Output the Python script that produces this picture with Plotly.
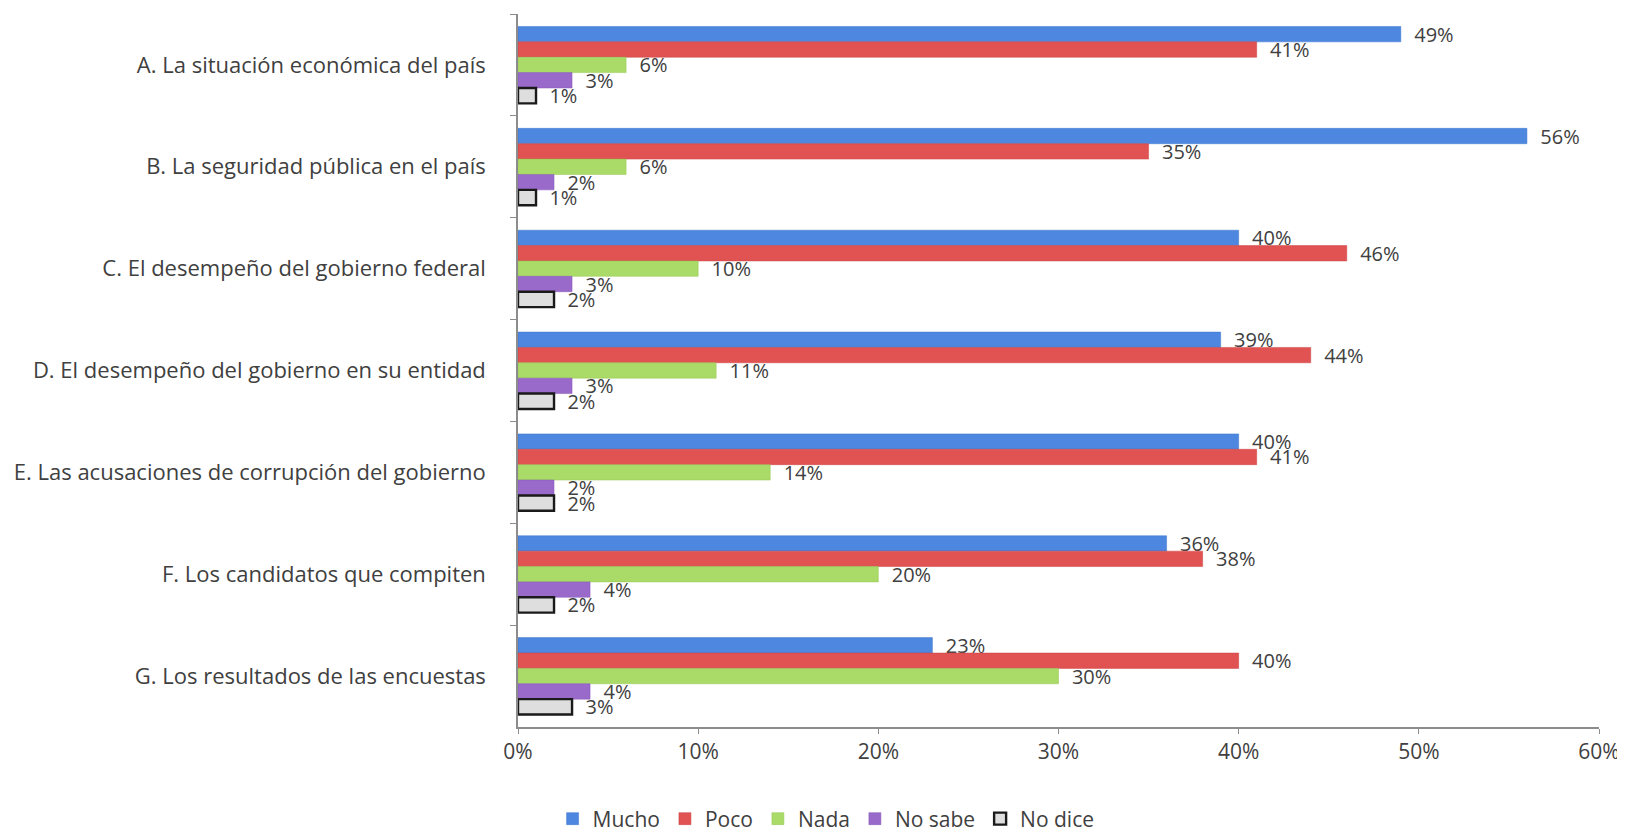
import plotly.graph_objects as go

categories = [
    "A. La situación económica del país",
    "B. La seguridad pública en el país",
    "C. El desempeño del gobierno federal",
    "D. El desempeño del gobierno en su entidad",
    "E. Las acusaciones de corrupción del gobierno",
    "F. Los candidatos que compiten",
    "G. Los resultados de las encuestas",
]
series_names = ["Mucho", "Poco", "Nada", "No sabe", "No dice"]
mucho = [49, 56, 40, 39, 40, 36, 23]
poco = [41, 35, 46, 44, 41, 38, 40]
nada = [6, 6, 10, 11, 14, 20, 30]
no_sabe = [3, 2, 3, 3, 2, 4, 4]
no_dice = [1, 1, 2, 2, 2, 2, 3]
x_ticks = [0, 10, 20, 30, 40, 50, 60]
x_tick_labels = ["0%", "10%", "20%", "30%", "40%", "50%", "60%"]

series_values = [mucho, poco, nada, no_sabe, no_dice]
fills = ["#4D87DF", "#E15252", "#AADA68", "#9A6ACB", "#DEDEDE"]
lines = ["#3F77CC", "#CB4444", "#94C653", "#8557B8", "#1A1A1A"]
line_w = [0.5, 0.5, 0.5, 0.5, 2.4]

FONT = "'Open Sans', Lato, sans-serif"
TXT = "#404040"

fig = go.Figure()
for name, vals, fc, lc, lw in zip(series_names, series_values, fills, lines, line_w):
    fig.add_trace(go.Bar(
        name=name,
        y=categories,
        x=vals,
        orientation="h",
        marker=dict(color=fc, line=dict(color=lc, width=lw)),
        text=[f"\u00a0\u00a0{v}%" for v in vals],
        textposition="outside",
        constraintext="none",
        textfont=dict(family=FONT, size=20, color=TXT),
        cliponaxis=False,
    ))

fig.update_layout(
    width=1625,
    height=830,
    barmode="group",
    bargap=0.245,
    bargroupgap=0.0,
    paper_bgcolor="white",
    plot_bgcolor="white",
    margin=dict(l=510, r=34, t=6, b=111, autoexpand=False),
    font=dict(family=FONT, size=20, color=TXT),
    showlegend=True,
    legend=dict(
        orientation="h",
        x=0.285, xanchor="center",
        y=-0.129, yanchor="middle",
        font=dict(family=FONT, size=21, color=TXT),
        itemwidth=30,
        traceorder="normal",
    ),
    xaxis=dict(
        range=[0, 60],
        tickvals=x_ticks,
        ticktext=x_tick_labels,
        showgrid=False,
        zeroline=False,
        showline=True,
        linecolor="#8C8C8C",
        linewidth=1.5,
        ticks="outside",
        ticklen=5,
        tickcolor="#8C8C8C",
        tickfont=dict(family=FONT, size=21, color=TXT),
    ),
    yaxis=dict(
        autorange="reversed",
        showgrid=False,
        showline=True,
        linecolor="#8C8C8C",
        linewidth=1.5,
        ticks="outside",
        ticklen=6,
        tickcolor="#8C8C8C",
        tickson="boundaries",
        ticklabelstandoff=26,
        tickfont=dict(family=FONT, size=22, color=TXT),
    ),
)

fig.write_html("out.html")
